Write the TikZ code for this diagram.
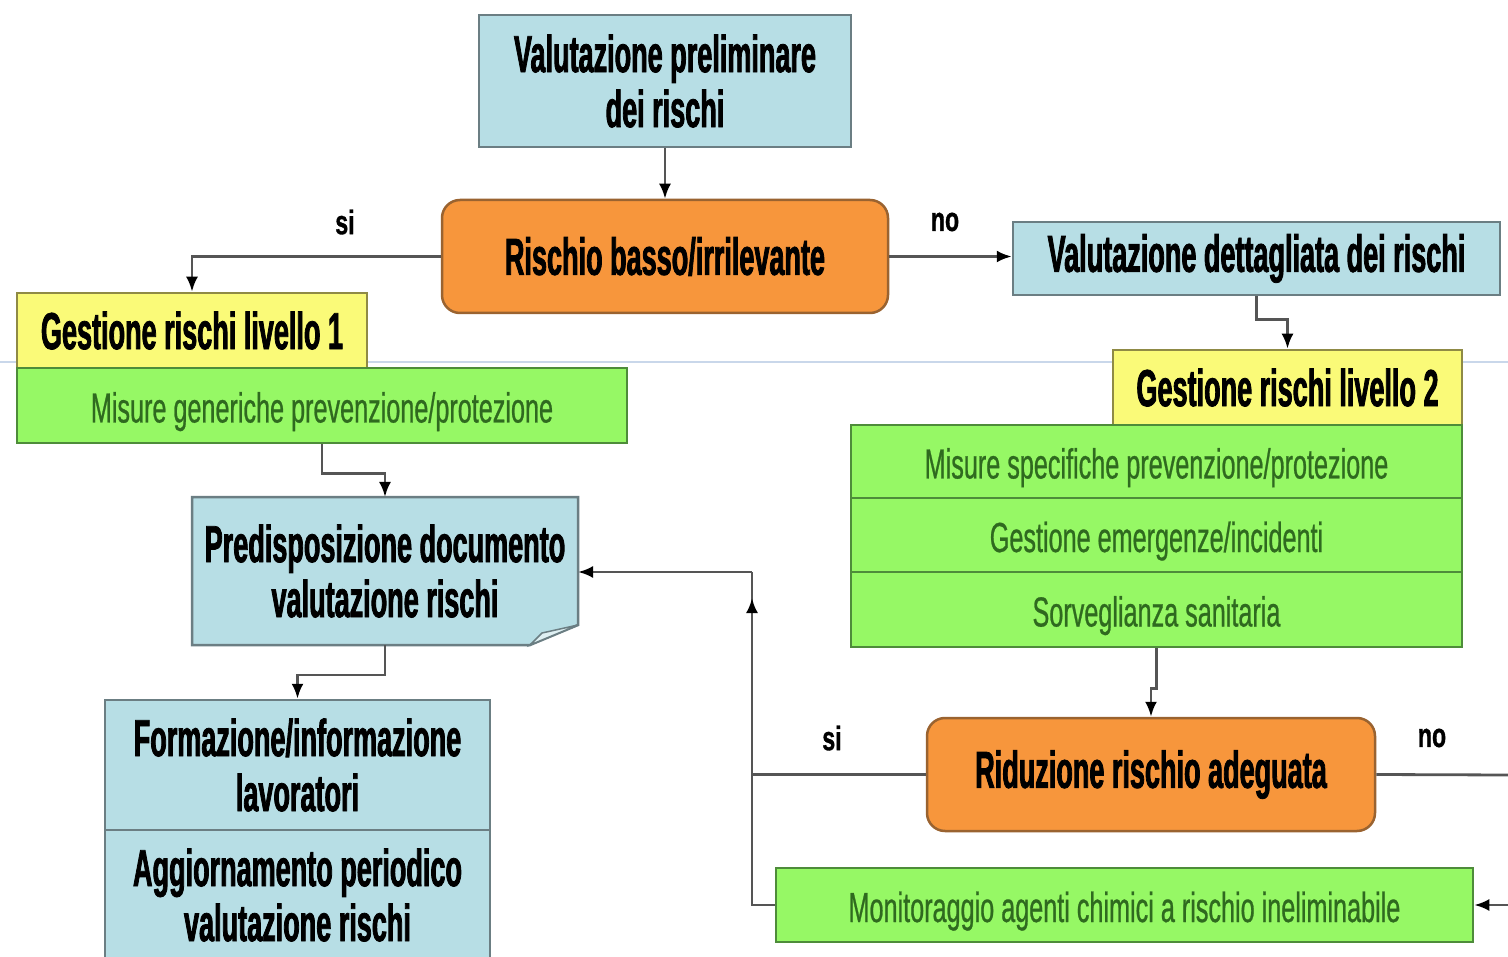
\documentclass[tikz,border=0pt]{standalone}
\usepackage{fontspec}
\setmainfont{Liberation Sans}
\newfontfamily\boxfont{Liberation Sans}[FakeStretch=0.52,FakeBold=1.5]
\newfontfamily\greenfont{Liberation Sans}[FakeStretch=0.6,FakeBold=0.6]
\newfontfamily\labfont{Liberation Sans}[FakeStretch=0.68,FakeBold=1]
\usetikzlibrary{arrows.meta,backgrounds}
\definecolor{bluefill}{HTML}{B7DEE5}
\definecolor{blueline}{HTML}{6B7E83}
\definecolor{orangefill}{HTML}{F7963C}
\definecolor{orangeline}{HTML}{9A6330}
\definecolor{yellowfill}{HTML}{FAFA78}
\definecolor{yellowline}{HTML}{8F8A45}
\definecolor{greenfill}{HTML}{96F865}
\definecolor{greenline}{HTML}{4E8C3A}
\definecolor{greentext}{HTML}{2F6A1F}
\definecolor{conncol}{HTML}{555555}
\definecolor{scanline}{HTML}{C9D7EA}
\tikzset{
  box/.style={draw, line width=2.5pt, inner sep=0pt, align=center, text=black,
    font=\boxfont\bfseries\fontsize{52}{55}\selectfont},
  bluebox/.style={box, fill=bluefill, draw=blueline},
  orangebox/.style={box, fill=orangefill, draw=orangeline, rounded corners=18pt},
  yellowbox/.style={box, fill=yellowfill, draw=yellowline},
  greenbox/.style={draw=greenline, fill=greenfill, line width=2.5pt, inner sep=0pt,
    align=center, text=greentext, text height=36pt, text depth=2pt,
    font=\greenfont\fontsize{42}{46}\selectfont},
  lab/.style={inner sep=0pt, font=\labfont\bfseries\fontsize{34}{36}\selectfont},
  conn/.style={draw=conncol, line width=2.8pt},
  arr/.style={conn, -{Latex[length=15pt,width=12pt,color=black]}},
}
\begin{document}
\begin{tikzpicture}[x=1pt,y=-1pt]
\begin{scope}[on background layer]
  \fill[white] (0,0) rectangle (1508,957);
\end{scope}
\useasboundingbox (0,0) rectangle (1508,957);
\draw[scanline, line width=1.5pt] (0,362) -- (1508,362);

% nodes
\node[bluebox, minimum width=372, minimum height=132] (vp) at (665,81) {Valutazione preliminare\\dei rischi};
\node[orangebox, minimum width=446, minimum height=113] (rb) at (665,256.5) {Rischio basso/irrilevante};
\node[bluebox, minimum width=487, minimum height=73] (vd) at (1256.5,258.5) {Valutazione dettagliata dei rischi};
\node[yellowbox, minimum width=350, minimum height=75] (g1) at (192,330.5) {Gestione rischi livello 1};
\node[greenbox, minimum width=610, minimum height=75] (m1) at (322,405.5) {Misure generiche prevenzione/protezione};
\node[yellowbox, minimum width=349, minimum height=75] (g2) at (1287.5,387.5) {Gestione rischi livello 2};
\node[greenbox, minimum width=611, minimum height=73] (ms) at (1156.5,461.5) {Misure specifiche prevenzione/protezione};
\node[greenbox, minimum width=611, minimum height=74] (ge) at (1156.5,535) {Gestione emergenze/incidenti};
\node[greenbox, minimum width=611, minimum height=75] (ss) at (1156.5,609.5) {Sorveglianza sanitaria};
\node[box, draw=none, outer sep=0pt, minimum width=386, minimum height=148] (pd) at (385,571) {Predisposizione documento\\valutazione rischi};
\begin{scope}[on background layer]
  \filldraw[fill=bluefill, draw=blueline, line width=2.5pt]
    (pd.north west) -- (pd.north east) -- ([yshift=20pt]pd.south east)
    -- ([xshift=-48pt]pd.south east) -- (pd.south west) -- cycle;
  \filldraw[fill=bluefill!45!white, draw=blueline, line width=1.5pt]
    ([xshift=-48pt]pd.south east) -- ([yshift=20pt]pd.south east)
    -- ([xshift=-36pt,yshift=12pt]pd.south east) -- cycle;
\end{scope}
\node[orangebox, minimum width=448, minimum height=113] (rr) at (1151,774.5) {Riduzione rischio adeguata};
\node[bluebox, minimum width=385, minimum height=130] (fi) at (297.5,765) {Formazione/informazione\\lavoratori};
\node[bluebox, minimum width=385, minimum height=130] (ag) at (297.5,895) {Aggiornamento periodico\\valutazione rischi};
\node[greenbox, minimum width=697, minimum height=74] (mo) at (1124.5,905) {Monitoraggio agenti chimici a rischio ineliminabile};

% labels
\node[lab] (si1) at (345,222) {si};
\node[lab] (no1) at (945,222) {no};
\node[lab] (si2) at (832,738) {si};
\node[lab] (no2) at (1432,738) {no};

% free ends
\coordinate (jt) at (752,572);
\coordinate (jb) at (752,905);
\coordinate (jm) at (752,598);
\coordinate (re) at (1508,775);
\coordinate (me) at (1508,905);

% connectors
\draw[arr] (vp.south) -- (rb.north);
\draw[arr] (rb.west) -| (g1.north);
\draw[arr] (rb.east) -- (rb.east -| vd.west);
\draw[arr] (vd.south) -- ++(0,23) -| (g2.north);
\draw[arr] (m1.south) -- ++(0,29) -| (pd.north);
\draw[arr] (pd.south) -- ++(0,30) -| (fi.north);
\draw[arr] (ss.south) -- ++(0,40) -| (rr.north);
\draw[conn] (mo.west) -| (jt);
\draw[arr] (jb) -- (jm);
\draw[arr] (jt) -- (jt -| pd.east);
\draw[conn] (rr.west) -- (rr.west -| jt);
\draw[conn] (rr.east) -- (re);
\draw[arr] (me) -- (mo.east);
\end{tikzpicture}
\end{document}
